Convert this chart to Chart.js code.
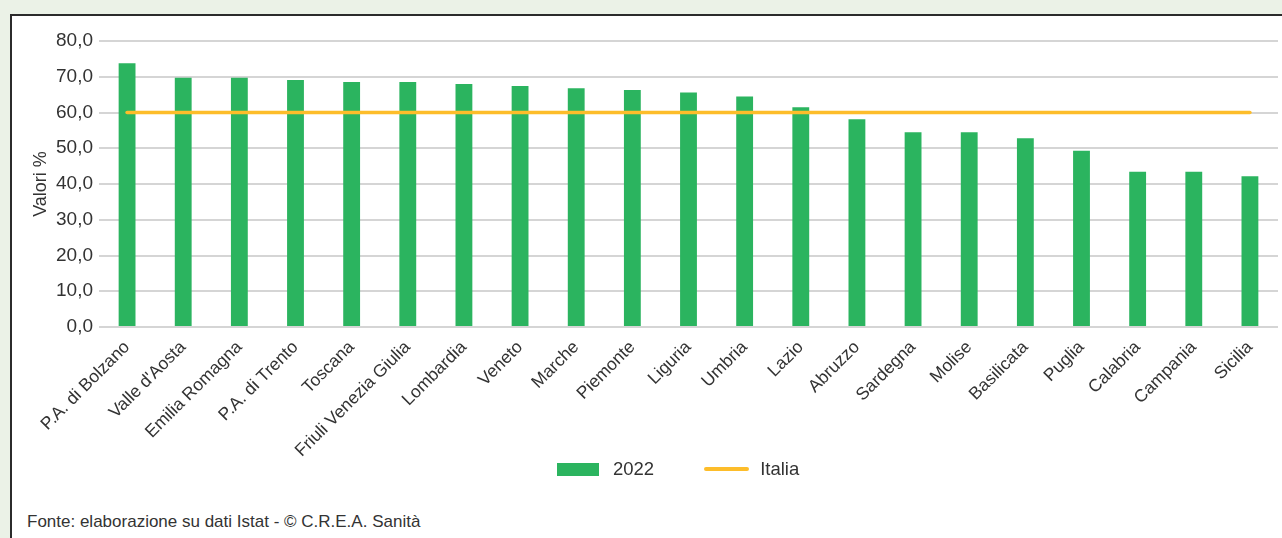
<!DOCTYPE html>
<html lang="it">
<head>
<meta charset="utf-8">
<title>Valori % per regione, 2022</title>
<script src="https://cdn.jsdelivr.net/npm/chart.js@4.4.1/dist/chart.umd.min.js"></script>
<style>
  html, body { margin: 0; padding: 0; }
  body {
    width: 1282px; height: 538px; overflow: hidden;
    background: #ebf2e7; position: relative;
    font-family: 'Liberation Sans', Arial, sans-serif;
    color: #333;
  }
  .frame {
    position: absolute; left: 10px; top: 14px; width: 1300px; height: 600px;
    background: #fff; border-top: 2px solid #2b2b2b; border-left: 2px solid #2b2b2b;
  }
  .chart-wrapper { position: absolute; left: 12px; top: 16px; width: 1270px; height: 451px; }
  .legend {
    position: absolute; left: 557px; top: 458px; height: 22px;
    display: flex; align-items: center; font-size: 18.5px; white-space: nowrap;
  }
  .legend-item { display: flex; align-items: center; margin-right: 50px; }
  .legend-item .swatch { margin-right: 14px; }
  .swatch.box { width: 42px; height: 13px; }
  .swatch.line { width: 45px; height: 4px; border-radius: 2px; margin-right: 11px; }
  .source {
    position: absolute; left: 27px; top: 512px;
    font-size: 17px; white-space: nowrap;
  }
</style>
</head>
<body>
<div class="frame"></div>
<div class="chart-wrapper"><canvas id="chart"></canvas></div>
<div class="legend" id="legend"></div>
<div class="source">Fonte: elaborazione su dati Istat - © C.R.E.A. Sanità</div>
<script>
// ── data ─────────────────────────────────────────
const REGIONS = [
  'P.A. di Bolzano', "Valle d'Aosta", 'Emilia Romagna', 'P.A. di Trento', 'Toscana',
  'Friuli Venezia Giulia', 'Lombardia', 'Veneto', 'Marche', 'Piemonte', 'Liguria',
  'Umbria', 'Lazio', 'Abruzzo', 'Sardegna', 'Molise', 'Basilicata', 'Puglia',
  'Calabria', 'Campania', 'Sicilia',
];

const VALUES_2022 = [
  73.8, 69.7, 69.7, 69.1, 68.5, 68.5, 68.0, 67.4, 66.8, 66.3, 65.6,
  64.5, 61.5, 58.1, 54.5, 54.5, 52.8, 49.3, 43.4, 43.4, 42.2,
];

const VALUES_ITALIA = [
  60.0, 60.0, 60.0, 60.0, 60.0, 60.0, 60.0, 60.0, 60.0, 60.0, 60.0,
  60.0, 60.0, 60.0, 60.0, 60.0, 60.0, 60.0, 60.0, 60.0, 60.0,
];

const Y_TICKS = [0, 10, 20, 30, 40, 50, 60, 70, 80];

const GREEN = '#2bb45f';
const ORANGE = '#fdbd2a';
const TEXT = '#333333';
const FONT = "'Liberation Sans', Arial, sans-serif";

const fmt = v => v.toFixed(1).replace('.', ',');

const chart = new Chart(document.getElementById('chart'), {
  data: {
    labels: REGIONS,
    datasets: [
      {
        type: 'line',
        label: 'Italia',
        data: VALUES_ITALIA,
        borderColor: ORANGE,
        backgroundColor: ORANGE,
        borderWidth: 3.5,
        borderCapStyle: 'round',
        pointRadius: 0,
        order: 0,
      },
      {
        type: 'bar',
        label: '2022',
        data: VALUES_2022,
        backgroundColor: GREEN,
        borderWidth: 0,
        barPercentage: 0.3,
        categoryPercentage: 1,
        order: 1,
      },
    ],
  },
  options: {
    responsive: true,
    maintainAspectRatio: false,
    animation: false,
    layout: { padding: { top: 25, left: 8, right: 4, bottom: 0 } },
    scales: {
      x: {
        grid: { display: false },
        border: { display: false },
        ticks: {
          color: TEXT,
          font: { family: FONT, size: 17.5 },
          autoSkip: false,
          maxRotation: 45,
          minRotation: 45,
          padding: 2,
        },
        // room for the longest rotated label so it is not clipped
        afterFit: s => { s.height = 140; },
      },
      y: {
        min: 0,
        max: 80,
        afterBuildTicks: s => { s.ticks = Y_TICKS.map(v => ({ value: v })); },
        grid: { color: '#d5d5d5', lineWidth: 2, drawTicks: false },
        border: { display: false },
        ticks: {
          color: TEXT,
          font: { family: FONT, size: 19 },
          padding: 6,
          callback: v => fmt(v),
        },
        title: {
          display: true,
          text: 'Valori %',
          color: TEXT,
          font: { family: FONT, size: 18 },
          padding: { top: 10, bottom: 0 },
        },
        afterFit: s => { s.width = 79; },
      },
    },
    plugins: {
      legend: { display: false },
      tooltip: { enabled: false },
    },
  },
});

// HTML legend, bar series first then the Italia line (as in the reference)
const legendEl = document.getElementById('legend');
[...chart.data.datasets].reverse().forEach(ds => {
  const item = document.createElement('div');
  item.className = 'legend-item';
  const sw = document.createElement('span');
  sw.className = 'swatch ' + (ds.type === 'bar' ? 'box' : 'line');
  sw.style.background = ds.type === 'bar' ? ds.backgroundColor : ds.borderColor;
  const txt = document.createElement('span');
  txt.textContent = ds.label;
  item.appendChild(sw);
  item.appendChild(txt);
  legendEl.appendChild(item);
});
</script>
</body>
</html>
